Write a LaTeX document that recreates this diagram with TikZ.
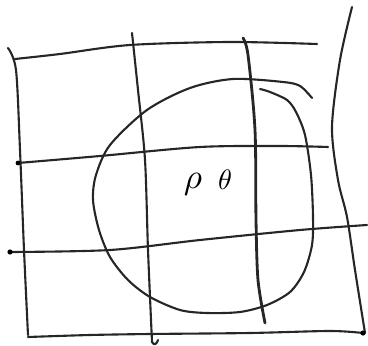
\documentclass[tikz,border=0pt]{standalone}
\usepackage{tikz}
\begin{document}
\begin{tikzpicture}[x=0.03cm, y=-0.03cm, line cap=round, line join=round,
    pen/.style={line width=1.8pt, black!85},
    thickpen/.style={line width=2.4pt, black!85}]
    \useasboundingbox (0,0) rectangle (368,346);
    % grid lines
    \draw[pen] plot[smooth] coordinates {(15,59) (60,54) (130,45) (230,42) (317,44)};
    \draw[pen] plot[smooth] coordinates {(18,163) (100,156) (200,147) (280,146) (328,147)};
    \draw[pen] plot[smooth] coordinates {(10,252) (110,250) (200,240) (300,230) (367,225)};
    \draw[pen] plot[smooth] coordinates {(28,337) (90,335) (150,334) (250,333) (330,331) (363,333)};
    \draw[pen] plot[smooth] coordinates {(8,48) (16,70) (20,150) (24,250) (28,335)};
    \draw[pen] plot[smooth] coordinates {(132,33) (138,90) (145,160) (148,250) (152,342)};
    \draw[pen] (152,342) .. controls (154,346) and (157,344) .. (158,340);
    \draw[thickpen] plot[smooth] coordinates {(243,38) (248,55) (255,130) (256,220) (258,280) (265,323)};
    \draw[pen] plot[smooth] coordinates {(352,7) (340,60) (332,127) (338,180) (347,217) (355,270) (365,333)};
    % end dots
    \fill (18,163) circle (2.4);
    \fill (10,252) circle (2.6);
    \fill (363,333) circle (2.6);
    % closed region
    \draw[pen] plot[smooth] coordinates {(312,98) (300,86) (283,82) (233,79) (190,88) (147,110)
        (110,145) (96,175) (93,200) (99,230) (110,257) (128,280) (150,297) (180,310) (207,313)
        (240,312) (267,305) (290,292) (304,272) (312,245) (313,217) (311,175) (305,135)
        (296,112) (287,100) (270,92) (260,89)};
    % label
    \node[scale=3] (rho) at (193,184) {$\rho$};
    \node[scale=2.4] (theta) at (225,180) {$\theta$};
\end{tikzpicture}
\end{document}
